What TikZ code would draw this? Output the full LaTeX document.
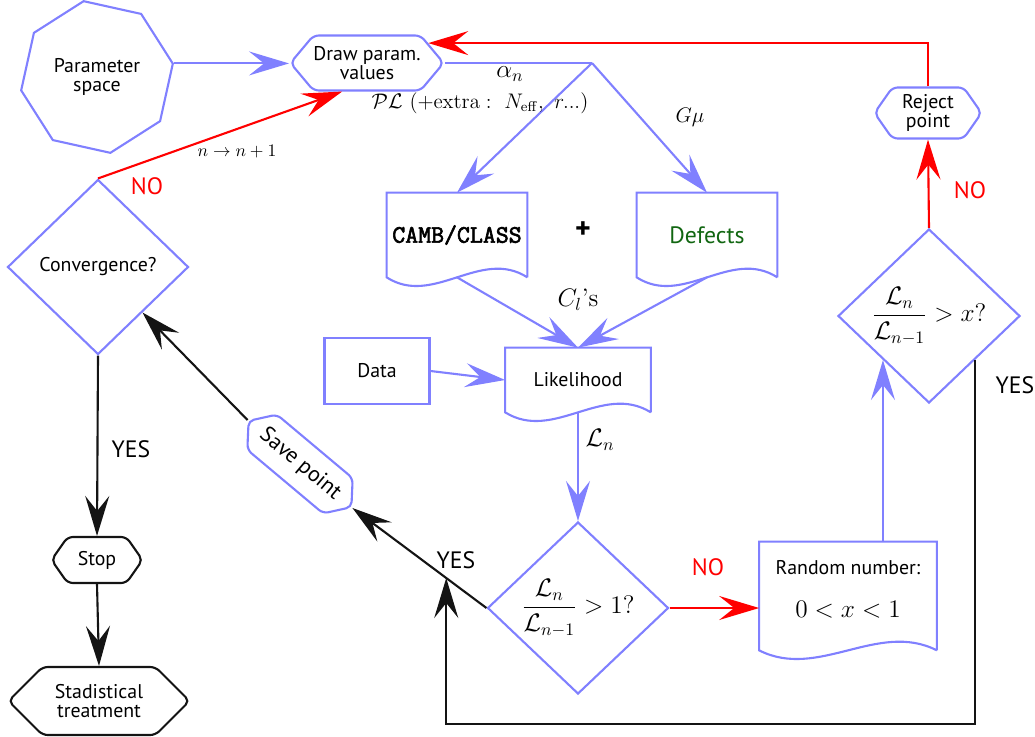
\documentclass[tikz,border=0pt]{standalone}
\usepackage{amsmath}
\usepackage[no-math]{fontspec}
\newfontfamily\chartfont{PT Sans}
\newfontfamily\codefont{Latin Modern Mono}[FakeBold=2.5]
\usetikzlibrary{shapes.geometric,shapes.symbols,arrows.meta,calc}

\newdimen\pxu \pxu=0.02cm
\definecolor{flowblue}{RGB}{128,128,255}
\definecolor{flowred}{RGB}{255,0,0}
\definecolor{flowgreen}{RGB}{17,102,17}
\definecolor{flowblack}{RGB}{20,20,20}
\newcommand\boxfont{\chartfont\fontsize{11.3}{10.5}\selectfont}
\newcommand\answerfont{\chartfont\fontsize{13.5}{15}\selectfont}

\tikzset{
  tip/.style={-{Stealth[length=0.8cm,width=0.48cm,inset=0.3cm]}},
  blueline/.style={draw=flowblue, line width=1.2pt},
  redline/.style={draw=flowred, line width=1.2pt},
  blackline/.style={draw=flowblack, line width=1.2pt},
  termbox/.style={signal, signal to=east and west, draw=flowblue, line width=1.2pt,
    rounded corners=3pt, inner sep=0pt, align=center, font=\boxfont},
  decision/.style={diamond, draw=flowblue, line width=1.2pt, inner sep=0pt,
    align=center, font=\boxfont},
  docbox/.style={rectangle, inner sep=0pt, align=center, font=\boxfont},
  answer/.style={font=\answerfont}
}

\begin{document}
\begin{tikzpicture}[x=0.02cm, y=-0.02cm]
  \useasboundingbox (0,0) rectangle (1035,737);

  % start of the chain
  \node[regular polygon, regular polygon sides=8, shape border rotate=-12.5,
        minimum size=154\pxu, inner sep=0pt, draw=flowblue, line width=1.2pt,
        align=center, font=\boxfont] (param) at (97,77) {Parameter\\space};
  \node[termbox, minimum width=149\pxu, minimum height=55\pxu, signal pointer angle=100]
        (drawpar) at (367,63) {Draw param.\\values};
  \coordinate (fork) at (592,63);

  % codes
  \node[docbox, minimum width=140\pxu, minimum height=84\pxu, font=\codefont\fontsize{14.3}{15}\selectfont]
        (camb) at (457,235) {CAMB/CLASS};
  \node[docbox, minimum width=140\pxu, minimum height=84\pxu, text=flowgreen,
        font=\chartfont\fontsize{13.5}{15}\selectfont] (defects) at (707,235) {Defects};
  \node[font=\chartfont\bfseries\fontsize{17}{18}\selectfont] (plus) at (583,230) {+};

  % likelihood
  \node[rectangle, draw=flowblue, line width=1.2pt, minimum width=105\pxu,
        minimum height=66\pxu, font=\boxfont] (data) at (377,371) {Data};
  \node[docbox, minimum width=145\pxu, minimum height=64\pxu] (like) at (578,380) {Likelihood};

  % tests
  \node[decision, minimum width=181\pxu, minimum height=172\pxu] (ratio) at (578,608)
        {\Large$\dfrac{\mathcal{L}_n}{\mathcal{L}_{n-1}}>1?$};
  \node[docbox, minimum width=177\pxu, minimum height=108\pxu] (rand) at (848,596) {};
  \node[font=\boxfont, align=center] (randtext) at (848,589)
        {Random number:\\[14pt] \Large$0<x<1$};
  \node[decision, minimum width=182\pxu, minimum height=174\pxu] (check) at (929,316)
        {\Large$\dfrac{\mathcal{L}_n}{\mathcal{L}_{n-1}}>x?$};
  \node[termbox, minimum width=107\pxu, minimum height=51\pxu, signal pointer angle=110]
        (reject) at (928,113) {Reject\\point};
  \node[termbox, minimum width=108\pxu, minimum height=46\pxu, signal pointer angle=105,
        rotate=-40, font=\chartfont\fontsize{12.5}{14}\selectfont] (save) at (300,464) {Save point};
  \node[decision, minimum width=181\pxu, minimum height=175\pxu] (conv) at (98,267) {Convergence?};
  \node[termbox, minimum width=91\pxu, minimum height=46\pxu, signal pointer angle=110,
        draw=flowblack] (stop) at (97,560) {Stop};
  \node[termbox, minimum width=181\pxu, minimum height=68\pxu, signal pointer angle=90,
        draw=flowblack] (treat) at (99,701) {Stadistical\\treatment};

  % wavy documents
  \foreach \n/\w in {camb/140, defects/140, like/145, rand/177}
    \draw[blueline] (\n.south east) -- (\n.north east) -- (\n.north west) -- (\n.south west)
      .. controls +({\w/3},30) and +({-\w/3},-30) .. (\n.south east);

  % connectors
  \draw[blueline, tip] (param.10) -- (param.10 -| drawpar.west);
  \draw[blueline] (drawpar.east) -- (fork);
  \draw[blueline, tip] (fork) -- (camb.north);
  \draw[blueline, tip] (fork) -- (defects.north);
  \draw[blueline, tip] (camb.south) -- (like.north);
  \draw[blueline, tip] (defects.south) -- (like.north);
  \draw[blueline, tip] (data.east) -- (like.west);
  \draw[blueline, tip] (like.south) -- (ratio.north);
  \draw[redline, tip] (ratio.east) -- (ratio.east -| rand.west);
  \draw[blueline, tip] (rand.north -| check.south west) -- (check.south west);
  \draw[redline, tip] (check.north) -- (reject.south);
  \draw[redline, tip] (reject.north) |- (drawpar.18);
  \draw[blackline, tip] (ratio.west) -- (save.east);
  \coordinate (yesjoin) at ($(ratio.west)!0.3!(save.east)$);
  \coordinate (base) at (0,724);
  \draw[blackline, tip] (check.south east) |- (yesjoin |- base) -- (yesjoin);
  \draw[blackline, tip] (save.west) -- (conv);
  \draw[redline, tip] (conv.north) -- (drawpar.229);
  \draw[blackline, tip] (conv.south) -- (stop.north);
  \draw[blackline, tip] (stop.south) -- (treat.north);

  % labels
  \node[font=\Large] (alpha) at (510,74) {$\alpha_n$};
  \node[font=\large] (extra) at (480,103) {$\mathcal{P}\mathcal{L}\ (+\mathrm{extra}:\ N_{\mathrm{eff}},\ r...)$};
  \node[font=\large] (gmu) at (690,117) {$G\mu$};
  \node[font=\Large] (cls) at (578,300) {$C_l$'s};
  \node[font=\Large] (ln) at (600,440) {$\mathcal{L}_n$};
  \node[font=\normalsize] (step) at (237,152) {$n\rightarrow n+1$};
  \node[answer, text=flowred] (no1) at (147,186) {NO};
  \node[answer, text=flowred] (no2) at (708,567) {NO};
  \node[answer, text=flowred] (no3) at (970,190) {NO};
  \node[answer] (yes1) at (131,449) {YES};
  \node[answer] (yes2) at (456,560) {YES};
  \node[answer] (yes3) at (1015,385) {YES};
\end{tikzpicture}
\end{document}
